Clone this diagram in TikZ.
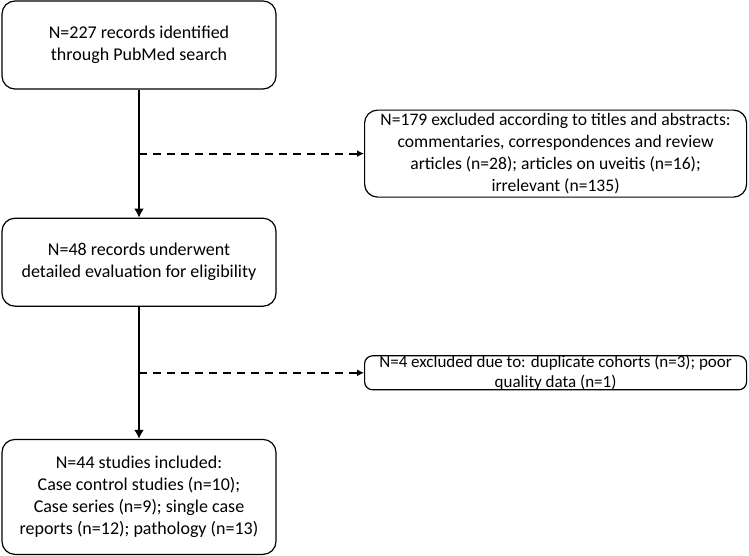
\documentclass[tikz,border=0pt]{standalone}
\usepackage{fontspec}
\setmainfont{Carlito}
\usepackage{tikz}
\usetikzlibrary{arrows.meta}
\usetikzlibrary{shapes,arrows,positioning,calc}
\tikzset{flow-line/.style={line width=2.8pt}}
\tikzset{flow-dash/.style={line width=1.8pt, dash pattern=on 8pt off 6pt}}
\tikzset{>=latex}
\tikzset{flow-text/.style={font=\fontsize{18}{22}\selectfont, align=center, inner sep=0}}
\tikzset{flow-node/.style={flow-text, draw, line width=1.2pt, minimum width=274pt, minimum height=88pt, rounded corners=13pt}}
\tikzset{flow-excl/.style={flow-text, draw, line width=1.2pt, minimum width=382pt, minimum height=87pt, rounded corners=13pt}}

\begin{document}
\begin{tikzpicture}[]
            \useasboundingbox (-139pt,45pt) rectangle (610pt,-510pt);

            \node[flow-node] (node1) {N=227 records identified\\through PubMed search};
            \node[flow-node, below=128pt of node1] (node3) {N=48 records underwent\\detailed evaluation for eligibility};
            \node[flow-node, below=132pt of node3, minimum height=115pt] (node5) {N=44 studies included:\\Case control studies (n=10);\\Case series (n=9); single case\\reports (n=12); pathology (n=13)};

            \coordinate (split1) at ($(node1.south)!0.5!(node3.north)$);
            \coordinate (split2) at ($(node3.south)!0.5!(node5.north)$);

            \node[flow-excl, right=225pt of split1, font=\fontsize{17.6}{22}\selectfont] (node2) {N=179 excluded according to titles and abstracts:\\commentaries, correspondences and review\\articles (n=28); articles on uveitis (n=16);\\irrelevant (n=135)};
            \node[flow-excl, right=225pt of split2, minimum height=34pt, rounded corners=8pt] (node4) {};
            \node[flow-text, font=\fontsize{17}{19.5}\selectfont] (node4-text) at (node4) {N=4 excluded due to: duplicate cohorts (n=3); poor\\quality data (n=1)};

            \draw[-{Latex[length=9pt,width=10pt]}, flow-line] (node1) -- (node3);
            \draw[-{Latex[length=9pt,width=10pt]}, flow-line] (node3) -- (node5);

            \draw[-{Latex[length=7pt,width=7pt]}, flow-dash] (split1) -- (node2);
            \draw[-{Latex[length=7pt,width=7pt]}, flow-dash] (split2) -- (node4);

        \end{tikzpicture}
\end{document}
